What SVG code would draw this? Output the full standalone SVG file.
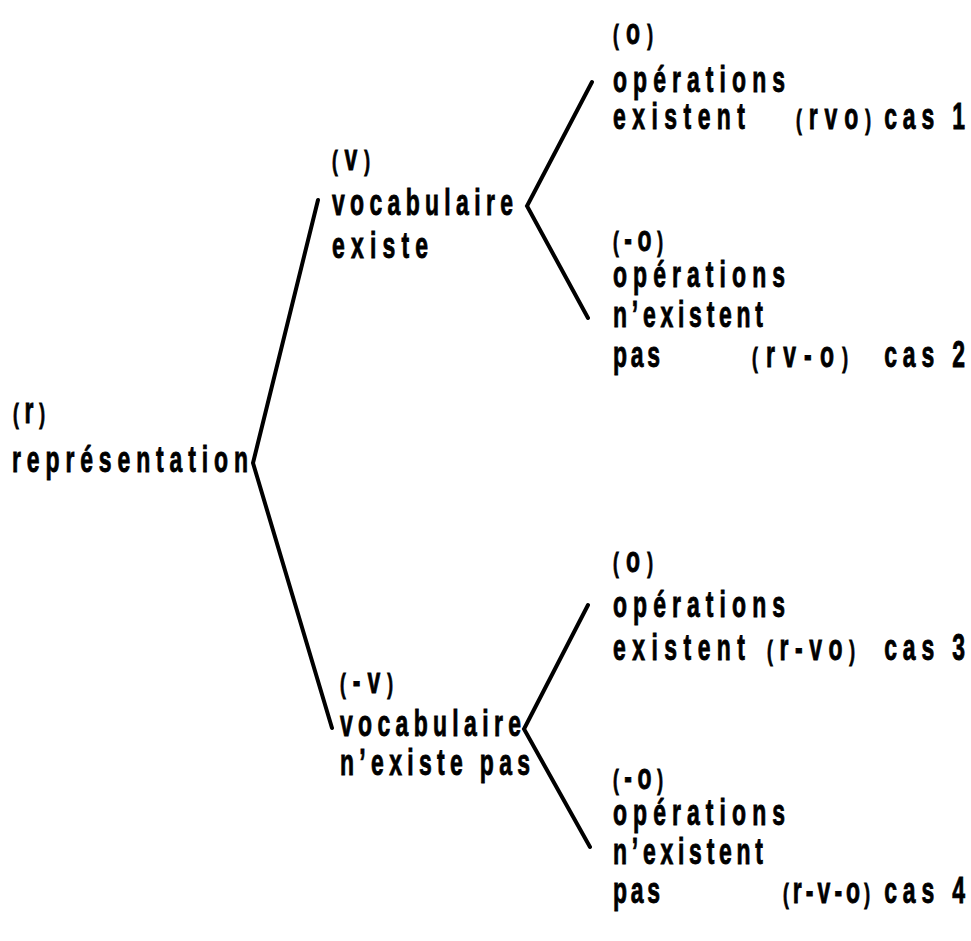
<svg xmlns="http://www.w3.org/2000/svg" width="971" height="941" viewBox="0 0 971 941">
<style>
.t{font-family:"Liberation Sans",Arial,sans-serif;font-weight:bold;font-size:37px;fill:#000;stroke:#000;stroke-width:0.9px}
.p{font-size:28px}
.k{letter-spacing:9.5px;text-anchor:end}
.c{fill:none;stroke:#000;stroke-width:4;stroke-linecap:round;stroke-linejoin:miter}
</style>
<rect width="971" height="941" fill="#fff"/>
<g id="connectors">
<polyline class="c" points="318,200 253,463 332,728"/>
<polyline class="c" points="592,82 527,206 588,318"/>
<polyline class="c" points="588,605 524,729 590,847"/>
</g>
<g id="node-r">
<text class="t" transform="translate(13,423) scale(0.62,1)" textLength="51.6" lengthAdjust="spacing"><tspan class="p">(</tspan>r<tspan class="p">)</tspan></text>
<text class="t" transform="translate(12,472) scale(0.62,1)" textLength="380.6" lengthAdjust="spacing">représentation</text>
</g>
<g id="node-v">
<text class="t" transform="translate(332,170) scale(0.62,1)" textLength="61.3" lengthAdjust="spacing"><tspan class="p">(</tspan>v<tspan class="p">)</tspan></text>
<text class="t" transform="translate(332,215) scale(0.62,1)" textLength="291.9" lengthAdjust="spacing">vocabulaire</text>
<text class="t" transform="translate(332,258) scale(0.62,1)" textLength="154.8" lengthAdjust="spacing">existe</text>
</g>
<g id="node-nv">
<text class="t" transform="translate(340,693) scale(0.62,1)" textLength="85.5" lengthAdjust="spacing"><tspan class="p">(</tspan>-v<tspan class="p">)</tspan></text>
<text class="t" transform="translate(340,736) scale(0.62,1)" textLength="291.9" lengthAdjust="spacing">vocabulaire</text>
<text class="t" transform="translate(340,775) scale(0.62,1)" textLength="306.5" lengthAdjust="spacing">n’existe pas</text>
</g>
<g id="node-cas1">
<text class="t" transform="translate(613,44) scale(0.62,1)" textLength="64.5" lengthAdjust="spacing"><tspan class="p">(</tspan>o<tspan class="p">)</tspan></text>
<text class="t" transform="translate(613,92) scale(0.62,1)" textLength="277.4" lengthAdjust="spacing">opérations</text>
<text class="t" transform="translate(613,129) scale(0.62,1)" textLength="212.9" lengthAdjust="spacing">existent</text>
<text class="t" transform="translate(796,129) scale(0.62,1)" textLength="121" lengthAdjust="spacing"><tspan class="p">(</tspan>rvo<tspan class="p">)</tspan></text>
<text class="t k" transform="translate(971,129) scale(0.62,1)">cas 1</text>
</g>
<g id="node-cas2">
<text class="t" transform="translate(613,251) scale(0.62,1)" textLength="80.6" lengthAdjust="spacing"><tspan class="p">(</tspan>-o<tspan class="p">)</tspan></text>
<text class="t" transform="translate(613,287) scale(0.62,1)" textLength="277.4" lengthAdjust="spacing">opérations</text>
<text class="t" transform="translate(613,327) scale(0.62,1)" textLength="241.9" lengthAdjust="spacing">n’existent</text>
<text class="t" transform="translate(613,367) scale(0.62,1)" textLength="75.8" lengthAdjust="spacing">pas</text>
<text class="t" transform="translate(752,367) scale(0.62,1)" textLength="154.8" lengthAdjust="spacing"><tspan class="p">(</tspan>rv-o<tspan class="p">)</tspan></text>
<text class="t k" transform="translate(971,367) scale(0.62,1)">cas 2</text>
</g>
<g id="node-cas3">
<text class="t" transform="translate(613,572) scale(0.62,1)" textLength="64.5" lengthAdjust="spacing"><tspan class="p">(</tspan>o<tspan class="p">)</tspan></text>
<text class="t" transform="translate(613,617) scale(0.62,1)" textLength="277.4" lengthAdjust="spacing">opérations</text>
<text class="t" transform="translate(613,660) scale(0.62,1)" textLength="212.9" lengthAdjust="spacing">existent</text>
<text class="t" transform="translate(767,660) scale(0.62,1)" textLength="141.9" lengthAdjust="spacing"><tspan class="p">(</tspan>r-vo<tspan class="p">)</tspan></text>
<text class="t k" transform="translate(971,660) scale(0.62,1)">cas 3</text>
</g>
<g id="node-cas4">
<text class="t" transform="translate(613,789) scale(0.62,1)" textLength="80.6" lengthAdjust="spacing"><tspan class="p">(</tspan>-o<tspan class="p">)</tspan></text>
<text class="t" transform="translate(613,825) scale(0.62,1)" textLength="277.4" lengthAdjust="spacing">opérations</text>
<text class="t" transform="translate(613,864) scale(0.62,1)" textLength="241.9" lengthAdjust="spacing">n’existent</text>
<text class="t" transform="translate(613,903) scale(0.62,1)" textLength="75.8" lengthAdjust="spacing">pas</text>
<text class="t" transform="translate(783,903) scale(0.62,1)" textLength="140.3" lengthAdjust="spacing"><tspan class="p">(</tspan>r-v-o<tspan class="p">)</tspan></text>
<text class="t k" transform="translate(971,903) scale(0.62,1)">cas 4</text>
</g>
</svg>
